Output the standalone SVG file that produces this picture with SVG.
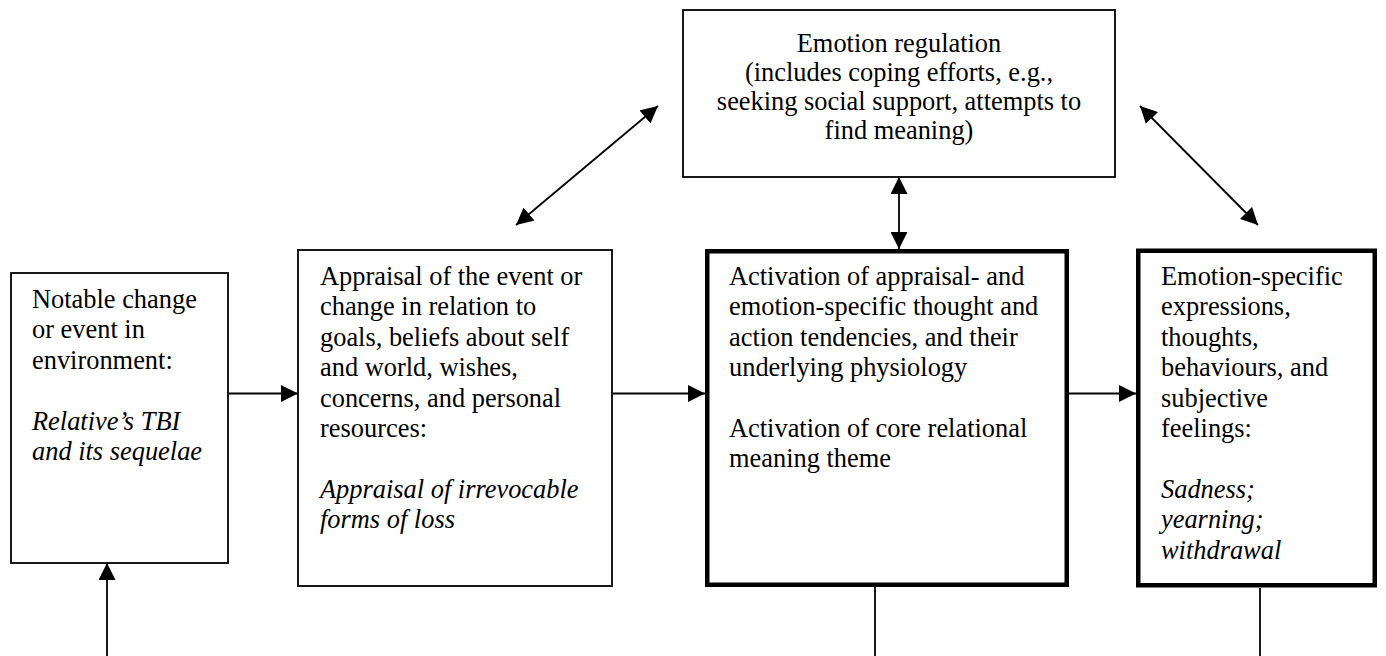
<svg xmlns="http://www.w3.org/2000/svg" width="1386" height="656" viewBox="0 0 1386 656">
<style>
text{font-family:"Liberation Serif","Times New Roman",serif;font-size:26.4px;fill:#000}
.it{font-style:italic}
.c{text-anchor:middle}
.thin{fill:#fff;stroke:#000;stroke-width:1.8}
.thick{fill:#fff;stroke:#000;stroke-width:4.5}
.con{stroke:#000;stroke-width:1.8;fill:none}
</style>
<defs>
<marker id="ah" markerUnits="userSpaceOnUse" markerWidth="17" markerHeight="17" refX="16" refY="8" orient="auto-start-reverse" viewBox="0 0 16 16">
<path d="M0,0 L16,8 L0,16 z" fill="#000"/>
</marker>
</defs>
<rect width="1386" height="656" fill="#fff"/>
<g id="connectors">
<line class="con" x1="107" y1="656" x2="107" y2="563" marker-end="url(#ah)"/>
<line class="con" x1="228" y1="393.5" x2="298" y2="393.5" marker-end="url(#ah)"/>
<line class="con" x1="612" y1="393.5" x2="705" y2="393.5" marker-end="url(#ah)"/>
<line class="con" x1="1069" y1="393.5" x2="1136" y2="393.5" marker-end="url(#ah)"/>
<line class="con" x1="899" y1="177" x2="899" y2="249" marker-start="url(#ah)" marker-end="url(#ah)"/>
<line class="con" x1="516" y1="225" x2="658" y2="106" marker-start="url(#ah)" marker-end="url(#ah)"/>
<line class="con" x1="1140" y1="106" x2="1258" y2="225" marker-start="url(#ah)" marker-end="url(#ah)"/>
<line class="con" x1="875" y1="587" x2="875" y2="656"/>
<line class="con" x1="1260" y1="588" x2="1260" y2="656"/>
</g>
<g id="regulation">
<rect class="thin" x="683" y="10" width="432" height="167"/>
<text class="c" x="899" y="52">Emotion regulation</text>
<text class="c" x="899" y="81">(includes coping efforts, e.g.,</text>
<text class="c" x="899" y="110">seeking social support, attempts to</text>
<text class="c" x="899" y="139">find meaning)</text>
</g>
<g id="event">
<rect class="thin" x="11" y="273" width="217" height="290"/>
<text x="32" y="308">Notable change</text>
<text x="32" y="338.4">or event in</text>
<text x="32" y="368.8">environment:</text>
<text class="it" x="32" y="429.6">Relative’s TBI</text>
<text class="it" x="32" y="460">and its sequelae</text>
</g>
<g id="appraisal">
<rect class="thin" x="298" y="250" width="314" height="336"/>
<text x="320" y="285">Appraisal of the event or</text>
<text x="320" y="315.4">change in relation to</text>
<text x="320" y="345.8">goals, beliefs about self</text>
<text x="320" y="376.2">and world, wishes,</text>
<text x="320" y="406.6">concerns, and personal</text>
<text x="320" y="437">resources:</text>
<text class="it" x="320" y="497.8">Appraisal of irrevocable</text>
<text class="it" x="320" y="528.2">forms of loss</text>
</g>
<g id="activation">
<rect class="thick" x="707.25" y="251.25" width="359.5" height="333.5"/>
<text x="729" y="285">Activation of appraisal- and</text>
<text x="729" y="315.4">emotion-specific thought and</text>
<text x="729" y="345.8">action tendencies, and their</text>
<text x="729" y="376.2">underlying physiology</text>
<text x="729" y="437">Activation of core relational</text>
<text x="729" y="467.4">meaning theme</text>
</g>
<g id="expressions">
<rect class="thick" x="1138.25" y="250.75" width="236.5" height="334.5"/>
<text x="1161" y="285">Emotion-specific</text>
<text x="1161" y="315.4">expressions,</text>
<text x="1161" y="345.8">thoughts,</text>
<text x="1161" y="376.2">behaviours, and</text>
<text x="1161" y="406.6">subjective</text>
<text x="1161" y="437">feelings:</text>
<text class="it" x="1161" y="497.8">Sadness;</text>
<text class="it" x="1161" y="528.2">yearning;</text>
<text class="it" x="1161" y="558.6">withdrawal</text>
</g>
</svg>
